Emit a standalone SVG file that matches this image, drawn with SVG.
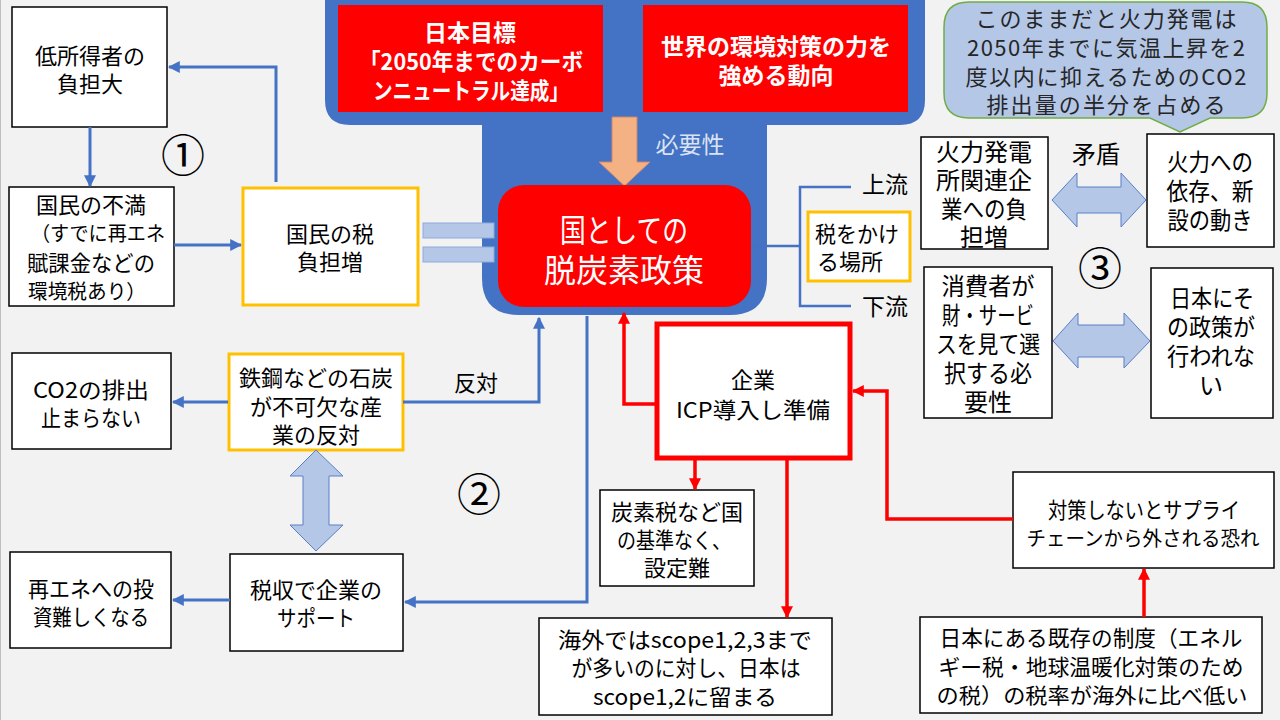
<svg xmlns="http://www.w3.org/2000/svg" width="1280" height="720" viewBox="0 0 1280 720">
<defs>
<style>
.t{font-family:"Noto Sans CJK JP","Noto Sans",sans-serif;font-size:22px;fill:#000;text-anchor:middle;dominant-baseline:central}
.r{font-size:24px}
.w{fill:#fff;font-weight:bold;font-size:23px}
.box{fill:#fff;stroke:#000;stroke-width:1.5}
.obox{fill:#fff;stroke:#ffc000;stroke-width:3}
.bl{fill:none;stroke:#4472c4;stroke-width:3}
.rd{fill:none;stroke:#ff0000;stroke-width:3.5}
.dbl{fill:#b4c7e7;stroke:#5b7fc7;stroke-width:1}
.num{font-family:"Noto Sans CJK JP","DejaVu Sans",sans-serif;font-size:44px;fill:#000;text-anchor:middle;dominant-baseline:central}
</style>
<marker id="ab" viewBox="0 0 10 10" refX="9" refY="5" markerWidth="12" markerHeight="12" markerUnits="userSpaceOnUse" orient="auto"><path d="M0,0 L10,5 L0,10 Z" fill="#4472c4"/></marker>
<marker id="ar" viewBox="0 0 10 10" refX="9" refY="5" markerWidth="12" markerHeight="12" markerUnits="userSpaceOnUse" orient="auto"><path d="M0,0 L10,5 L0,10 Z" fill="#ff0000"/></marker>
</defs>
<rect x="0" y="0" width="1280" height="720" fill="#f2f2f2"/>
<line x1="0.5" y1="0" x2="0.5" y2="720" stroke="#bfbfbf" stroke-width="1"/>

<g id="policy-container">
<path d="M325,-5 H925 V100 Q925,125 900,125 H767 V278 Q767,315 730,315 H519 Q482,315 482,278 V125 H350 Q325,125 325,100 Z" fill="#4472c4"/>
<rect x="338" y="5" width="265" height="107" fill="#ff0000"/>
<text class="t w" x="470" y="31">日本目標</text>
<text class="t w" x="471" y="60" textLength="224" lengthAdjust="spacingAndGlyphs">「2050年までのカーボ</text>
<text class="t w" x="471" y="89" textLength="196" lengthAdjust="spacingAndGlyphs">ンニュートラル達成」</text>
<rect x="643" y="5" width="265" height="107" fill="#ff0000"/>
<text class="t w" x="776" y="45">世界の環境対策の力を</text>
<text class="t w" x="776" y="74">強める動向</text>
<polygon points="612,117 637,117 637,162 650,162 624.5,186 599,162 612,162" fill="#f4b183" stroke="#c9876a" stroke-width="1"/>
<text class="t" x="690" y="143" style="fill:#dae3f3;font-size:23px">必要性</text>
<rect x="498" y="185" width="253" height="122" rx="26" fill="#ff0000"/>
<text class="t" x="624" y="228" style="fill:#fff;font-size:32px" textLength="128" lengthAdjust="spacingAndGlyphs">国としての</text>
<text class="t" x="624" y="268" style="fill:#fff;font-size:32px">脱炭素政策</text>
</g>

<g id="callout">
<path d="M969,2 H1242 Q1267,2 1267,27 V93 Q1267,118 1242,118 H1210 L1180,132 L1150,118 H969 Q944,118 944,93 V27 Q944,2 969,2 Z" fill="#b4c7e7" stroke="#70ad47" stroke-width="1.5"/>
<text class="t" x="1106" y="17" style="fill:#262626" textLength="261" lengthAdjust="spacing">このままだと火力発電は</text>
<text class="t" x="1106" y="46" style="fill:#262626" textLength="278" lengthAdjust="spacing">2050年までに気温上昇を2</text>
<text class="t" x="1106" y="75" style="fill:#262626" textLength="281" lengthAdjust="spacing">度以内に抑えるためのCO2</text>
<text class="t" x="1106" y="103" style="fill:#262626" textLength="239" lengthAdjust="spacing">排出量の半分を占める</text>
</g>

<g id="low-income">
<rect class="box" x="12" y="7" width="155" height="120"/>
<text class="t" x="90" y="54">低所得者の</text>
<text class="t" x="90" y="82">負担大</text>
</g>
<g id="dissatisfaction">
<rect class="box" x="9" y="187" width="165" height="119"/>
<text class="t" x="91" y="203">国民の不満</text>
<text class="t" x="98" y="232" style="font-size:20px" textLength="134" lengthAdjust="spacingAndGlyphs">（すでに再エネ</text>
<text class="t" x="91" y="261" textLength="128" lengthAdjust="spacingAndGlyphs">賦課金などの</text>
<text class="t" x="87" y="290" style="font-size:20px" textLength="118" lengthAdjust="spacingAndGlyphs">環境税あり）</text>
</g>
<g id="tax-burden">
<rect class="obox" x="243" y="188" width="175" height="117"/>
<text class="t" x="330" y="232">国民の税</text>
<text class="t" x="330" y="260">負担増</text>
</g>
<g id="co2">
<rect class="box" x="12" y="353" width="159" height="96"/>
<text class="t" x="91" y="388" textLength="116" lengthAdjust="spacingAndGlyphs">CO2の排出</text>
<text class="t" x="91" y="416" textLength="100" lengthAdjust="spacingAndGlyphs">止まらない</text>
</g>
<g id="steel">
<rect class="obox" x="229" y="354" width="174" height="96"/>
<text class="t" x="316" y="376">鉄鋼などの石炭</text>
<text class="t" x="316" y="405">が不可欠な産</text>
<text class="t" x="316" y="433">業の反対</text>
</g>
<g id="renewables">
<rect class="box" x="10" y="552" width="161" height="96"/>
<text class="t" x="91" y="587" textLength="126" lengthAdjust="spacingAndGlyphs">再エネへの投</text>
<text class="t" x="91" y="615" textLength="116" lengthAdjust="spacingAndGlyphs">資難しくなる</text>
</g>
<g id="tax-revenue">
<rect class="box" x="230" y="554" width="173" height="97"/>
<text class="t" x="316" y="588">税収で企業の</text>
<text class="t" x="316" y="616" textLength="78" lengthAdjust="spacingAndGlyphs">サポート</text>
</g>
<g id="tax-place">
<rect class="obox" x="808" y="212" width="102" height="69"/>
<text class="t" x="857" y="232" textLength="84" lengthAdjust="spacingAndGlyphs">税をかけ</text>
<text class="t" x="850" y="260" textLength="66" lengthAdjust="spacingAndGlyphs">る場所</text>
</g>
<g id="company">
<rect x="657" y="324" width="193" height="134" fill="#fff" stroke="#ff0000" stroke-width="5"/>
<text class="t" x="753" y="378">企業</text>
<text class="t" x="753" y="408" textLength="154" lengthAdjust="spacingAndGlyphs">ICP導入し準備</text>
</g>
<g id="carbon-tax">
<rect class="box" x="600" y="490" width="154" height="96"/>
<text class="t" x="677" y="510">炭素税など国</text>
<text class="t" x="674" y="538" textLength="114" lengthAdjust="spacingAndGlyphs">の基準なく、</text>
<text class="t" x="677" y="566">設定難</text>
</g>
<g id="scope">
<rect class="box" x="539" y="618" width="293" height="97"/>
<text class="t" x="685" y="638" textLength="254" lengthAdjust="spacingAndGlyphs">海外ではscope1,2,3まで</text>
<text class="t" x="686" y="666" textLength="229" lengthAdjust="spacingAndGlyphs">が多いのに対し、日本は</text>
<text class="t" x="685" y="695" textLength="184" lengthAdjust="spacingAndGlyphs">scope1,2に留まる</text>
</g>
<g id="supply-chain">
<rect class="box" x="1013" y="472" width="261" height="96"/>
<text class="t" x="1144" y="508" textLength="192" lengthAdjust="spacingAndGlyphs">対策しないとサプライ</text>
<text class="t" x="1143" y="537" style="font-size:20px" textLength="233" lengthAdjust="spacingAndGlyphs">チェーンから外される恐れ</text>
</g>
<g id="existing-system">
<rect class="box" x="920" y="617" width="342" height="96"/>
<text class="t" x="1091" y="636" textLength="303" lengthAdjust="spacingAndGlyphs">日本にある既存の制度（エネル</text>
<text class="t" x="1091" y="665" textLength="305" lengthAdjust="spacingAndGlyphs">ギー税・地球温暖化対策のため</text>
<text class="t" x="1092" y="694" style="font-size:21px" textLength="311" lengthAdjust="spacingAndGlyphs">の税）の税率が海外に比べ低い</text>
</g>
<g id="thermal-companies">
<rect class="box" x="921" y="137" width="127" height="112"/>
<text class="t r" x="984" y="150">火力発電</text>
<text class="t r" x="984" y="178">所関連企</text>
<text class="t r" x="984" y="207" textLength="86" lengthAdjust="spacingAndGlyphs">業への負</text>
<text class="t r" x="984" y="235">担増</text>
</g>
<g id="thermal-dependence">
<rect class="box" x="1147" y="134" width="127" height="113"/>
<text class="t r" x="1210" y="160" textLength="86" lengthAdjust="spacingAndGlyphs">火力への</text>
<text class="t r" x="1210" y="189" textLength="87" lengthAdjust="spacingAndGlyphs">依存、新</text>
<text class="t r" x="1210" y="218" textLength="85" lengthAdjust="spacingAndGlyphs">設の動き</text>
</g>
<g id="consumers">
<rect class="box" x="924" y="267" width="128" height="151"/>
<text class="t r" x="988" y="284" textLength="93" lengthAdjust="spacingAndGlyphs">消費者が</text>
<text class="t r" x="988" y="313" textLength="92" lengthAdjust="spacingAndGlyphs">財・サービ</text>
<text class="t r" x="988" y="342" textLength="104" lengthAdjust="spacingAndGlyphs">スを見て選</text>
<text class="t r" x="988" y="371" textLength="88" lengthAdjust="spacingAndGlyphs">択する必</text>
<text class="t r" x="988" y="400">要性</text>
</g>
<g id="no-policy">
<rect class="box" x="1151" y="268" width="122" height="150"/>
<text class="t r" x="1212" y="296" textLength="84" lengthAdjust="spacingAndGlyphs">日本にそ</text>
<text class="t r" x="1211" y="325" textLength="88" lengthAdjust="spacingAndGlyphs">の政策が</text>
<text class="t r" x="1211" y="354" textLength="88" lengthAdjust="spacingAndGlyphs">行われな</text>
<text class="t r" x="1211" y="383">い</text>
</g>

<g id="labels">
<text class="t" x="885" y="183" style="font-size:23px">上流</text>
<text class="t" x="885" y="305" style="font-size:23px">下流</text>
<text class="t" x="476" y="381">反対</text>
<text class="t r" x="1096" y="152">矛盾</text>
<text class="num" x="183" y="153">①</text>
<text class="num" x="479" y="492">②</text>
<text class="num" x="1100" y="266">③</text>
</g>

<g id="connectors">
<path class="bl" d="M90,127 V186" marker-end="url(#ab)"/>
<path class="bl" d="M174,245 H241" marker-end="url(#ab)"/>
<path class="bl" d="M276,182 V67 H169" marker-end="url(#ab)"/>
<path class="bl" d="M228,402 H173" marker-end="url(#ab)"/>
<path class="bl" d="M403,402 H539 V318" marker-end="url(#ab)"/>
<path class="bl" d="M230,600 H173" marker-end="url(#ab)"/>
<path class="bl" d="M587,316 V602 H405" marker-end="url(#ab)"/>
<path class="bl" d="M751,246 H800" style="stroke-width:2.5"/>
<path class="bl" d="M851,187 H800 V306 H851" style="stroke-width:2.5"/>
<path class="rd" d="M655,404 H624 V313" marker-end="url(#ar)"/>
<path class="rd" d="M695,460 V489" marker-end="url(#ar)"/>
<path class="rd" d="M787,460 V617" marker-end="url(#ar)"/>
<path class="rd" d="M1013,519 H887 V391 H853" marker-end="url(#ar)"/>
<path class="rd" d="M1144,617 V569" marker-end="url(#ar)"/>
<rect x="423" y="223" width="71" height="15" fill="#b4c7e7" stroke="#8faadc" stroke-width="1"/>
<rect x="423" y="247" width="71" height="15" fill="#b4c7e7" stroke="#8faadc" stroke-width="1"/>
<polygon class="dbl" points="316,450 343,476 329,476 329,525 343,525 316,551 290,525 303,525 303,476 290,476"/>
<polygon class="dbl" points="1052,200 1077,173 1077,187 1121,187 1121,173 1146,200 1121,227 1121,213 1077,213 1077,227"/>
<polygon class="dbl" points="1053,341 1078,313 1078,325 1124,325 1124,313 1150,341 1124,368 1124,357 1078,357 1078,368"/>
</g>
</svg>
